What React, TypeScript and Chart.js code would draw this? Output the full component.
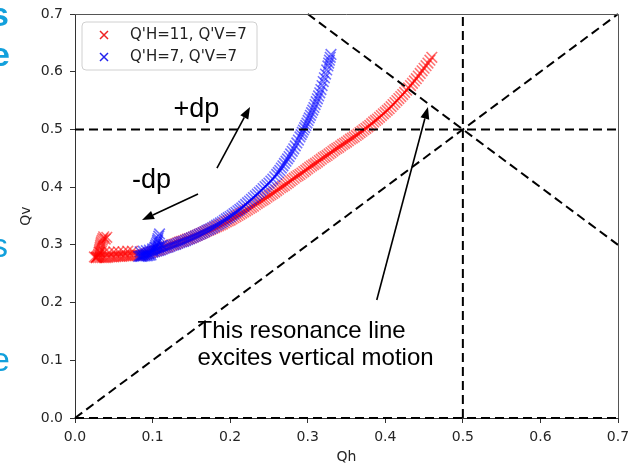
import React, { useEffect, useRef } from "react";
import { Chart, registerables } from "chart.js";
Chart.register(...registerables);

const seriesLabels = ["Q'H=11, Q'V=7", "Q'H=7, Q'V=7"];

// red: hook, bottom rows, main curve
const redQh = [
  0.041, 0.039, 0.037, 0.036, 0.035, 0.034, 0.0335, 0.033, 0.0325, 0.032, 0.0315, 0.031, 0.0305, 0.030, 0.029, 0.028, 0.027,
  0.025, 0.0275, 0.030, 0.0325, 0.035, 0.0375, 0.040, 0.0425, 0.045, 0.0475, 0.050, 0.0525, 0.055, 0.0575, 0.060, 0.0625,
  0.065, 0.0675, 0.070, 0.0725, 0.075, 0.0775, 0.080, 0.0825,
  0.032, 0.038, 0.044, 0.050, 0.056, 0.062, 0.068, 0.074,
  0.0850, 0.0875, 0.0900, 0.0925, 0.0950, 0.0975, 0.1000, 0.1025, 0.1050, 0.1075, 0.1100, 0.1125, 0.1150, 0.1175,
  0.1200, 0.1225, 0.1250, 0.1275, 0.1300, 0.1325, 0.1350, 0.1375, 0.1400, 0.1425, 0.1450, 0.1475, 0.1500, 0.1525,
  0.1550, 0.1575, 0.1600, 0.1625, 0.1650, 0.1675, 0.1700, 0.1725, 0.1750, 0.1775, 0.1800, 0.1825, 0.1850, 0.1875,
  0.1900, 0.1925, 0.1950, 0.1975, 0.2000, 0.2025, 0.2050, 0.2075, 0.2100, 0.2125, 0.2150, 0.2175, 0.2200, 0.2225,
  0.2250, 0.2275, 0.2300, 0.2325, 0.2350, 0.2375, 0.2400, 0.2425, 0.2450, 0.2475, 0.2500, 0.2525, 0.2550, 0.2575,
  0.2600, 0.2625, 0.2650, 0.2675, 0.2700, 0.2725, 0.2750, 0.2775, 0.2800, 0.2825, 0.2850, 0.2875, 0.2900, 0.2925,
  0.2950, 0.2975, 0.3000, 0.3025, 0.3050, 0.3075, 0.3100, 0.3125, 0.3150, 0.3175, 0.3200, 0.3225, 0.3250, 0.3275,
  0.3300, 0.3325, 0.3350, 0.3375, 0.3400, 0.3425, 0.3450, 0.3475, 0.3500, 0.3525, 0.3550, 0.3575, 0.3600, 0.3625,
  0.3650, 0.3675, 0.3700, 0.3725, 0.3750, 0.3775, 0.3800, 0.3825, 0.3850, 0.3875, 0.3900, 0.3925, 0.3950, 0.3975,
  0.4000, 0.4025, 0.4050, 0.4075, 0.4100, 0.4125, 0.4150, 0.4175, 0.4200, 0.4225, 0.4250, 0.4275, 0.4300, 0.4325,
  0.4350, 0.4375, 0.4400, 0.4425, 0.4450, 0.4475, 0.4500, 0.4525, 0.4550, 0.4575, 0.4600,
];
const redQv = [
  0.313, 0.310, 0.314, 0.311, 0.308, 0.305, 0.302, 0.299, 0.296, 0.293, 0.290, 0.287, 0.284, 0.282, 0.280, 0.279, 0.278,
  0.279, 0.278, 0.278, 0.278, 0.278, 0.278, 0.278, 0.2785, 0.279, 0.279, 0.279, 0.2795, 0.280, 0.280, 0.280, 0.2805,
  0.281, 0.281, 0.281, 0.2815, 0.282, 0.282, 0.282, 0.282,
  0.287, 0.287, 0.287, 0.288, 0.288, 0.288, 0.289, 0.289,
  0.2820, 0.2830, 0.2840, 0.2850, 0.2860, 0.2870, 0.2880, 0.2890, 0.2900, 0.2910, 0.2920, 0.2935, 0.2950, 0.2960,
  0.2970, 0.2985, 0.3000, 0.3010, 0.3020, 0.3035, 0.3050, 0.3060, 0.3070, 0.3085, 0.3100, 0.3110, 0.3120, 0.3135,
  0.3150, 0.3165, 0.3180, 0.3195, 0.3210, 0.3225, 0.3240, 0.3255, 0.3270, 0.3285, 0.3300, 0.3315, 0.3330, 0.3345,
  0.3360, 0.3380, 0.3400, 0.3415, 0.3430, 0.3450, 0.3470, 0.3490, 0.3510, 0.3530, 0.3550, 0.3570, 0.3590, 0.3610,
  0.3630, 0.3650, 0.3670, 0.3695, 0.3720, 0.3740, 0.3760, 0.3780, 0.3800, 0.3825, 0.3850, 0.3870, 0.3890, 0.3915,
  0.3940, 0.3965, 0.3990, 0.4010, 0.4030, 0.4055, 0.4080, 0.4105, 0.4130, 0.4155, 0.4180, 0.4200, 0.4220, 0.4245,
  0.4270, 0.4295, 0.4320, 0.4345, 0.4370, 0.4390, 0.4410, 0.4435, 0.4460, 0.4485, 0.4510, 0.4530, 0.4550, 0.4575,
  0.4600, 0.4625, 0.4650, 0.4670, 0.4690, 0.4715, 0.4740, 0.4760, 0.4780, 0.4805, 0.4830, 0.4850, 0.4870, 0.4895,
  0.4920, 0.4945, 0.4970, 0.4995, 0.5020, 0.5045, 0.5070, 0.5100, 0.5130, 0.5155, 0.5180, 0.5210, 0.5240, 0.5270,
  0.5300, 0.5330, 0.5360, 0.5395, 0.5430, 0.5465, 0.5500, 0.5535, 0.5570, 0.5605, 0.5640, 0.5680, 0.5720, 0.5760,
  0.5800, 0.5840, 0.5880, 0.5925, 0.5970, 0.6015, 0.6060, 0.6105, 0.6150, 0.6200, 0.6250,
];

// blue: hook, bottom rows, main curve
const blueQh = [
  0.109, 0.108, 0.107, 0.1065, 0.106, 0.105, 0.104, 0.103, 0.102, 0.100,
  0.082, 0.084, 0.086, 0.088, 0.090, 0.092, 0.094, 0.096, 0.098,
  0.084, 0.088, 0.092, 0.096, 0.100, 0.104, 0.108, 0.112,
  0.0850, 0.0875, 0.0900, 0.0925, 0.0950, 0.0975, 0.1000, 0.1025, 0.1050, 0.1075, 0.1100, 0.1125, 0.1150, 0.1175,
  0.1200, 0.1225, 0.1250, 0.1275, 0.1300, 0.1325, 0.1350, 0.1375, 0.1400, 0.1425, 0.1450, 0.1475, 0.1500, 0.1525,
  0.1550, 0.1575, 0.1600, 0.1625, 0.1650, 0.1675, 0.1700, 0.1725, 0.1750, 0.1775, 0.1800, 0.1825, 0.1850, 0.1875,
  0.1900, 0.1925, 0.1950, 0.1975, 0.2000, 0.2025, 0.2050, 0.2075, 0.2100, 0.2125, 0.2150, 0.2175, 0.2200, 0.2225,
  0.2250, 0.2275, 0.2300, 0.2325, 0.2350, 0.2375, 0.2400, 0.2425, 0.2450, 0.2475, 0.2500, 0.2525, 0.2550, 0.2575,
  0.2600, 0.2620, 0.2640, 0.2660, 0.2680, 0.2700, 0.2720, 0.2740, 0.2760, 0.2780, 0.2800, 0.2820, 0.2840, 0.2860,
  0.2880, 0.2900, 0.2915, 0.2930, 0.2945, 0.2960, 0.2975, 0.2990, 0.3005, 0.3020, 0.3035, 0.3050, 0.3065, 0.3080,
  0.3095, 0.3110, 0.3125, 0.3140, 0.3155, 0.3170, 0.3185, 0.3200, 0.3215, 0.3230, 0.3245, 0.3260, 0.3270, 0.3280,
  0.3290, 0.3300,
];
const blueQv = [
  0.319, 0.315, 0.311, 0.308, 0.305, 0.302, 0.299, 0.296, 0.293, 0.290,
  0.280, 0.280, 0.280, 0.2805, 0.281, 0.281, 0.2815, 0.282, 0.2825,
  0.288, 0.289, 0.290, 0.291, 0.293, 0.295, 0.297, 0.299,
  0.2810, 0.2820, 0.2830, 0.2840, 0.2850, 0.2860, 0.2870, 0.2880, 0.2890, 0.2900, 0.2910, 0.2925, 0.2940, 0.2950,
  0.2960, 0.2975, 0.2990, 0.3000, 0.3010, 0.3025, 0.3040, 0.3050, 0.3060, 0.3075, 0.3090, 0.3105, 0.3120, 0.3135,
  0.3150, 0.3165, 0.3180, 0.3195, 0.3210, 0.3230, 0.3250, 0.3265, 0.3280, 0.3300, 0.3320, 0.3340, 0.3360, 0.3380,
  0.3400, 0.3425, 0.3450, 0.3470, 0.3490, 0.3515, 0.3540, 0.3565, 0.3590, 0.3615, 0.3640, 0.3670, 0.3700, 0.3730,
  0.3760, 0.3790, 0.3820, 0.3850, 0.3880, 0.3910, 0.3940, 0.3975, 0.4010, 0.4040, 0.4070, 0.4105, 0.4140, 0.4180,
  0.4220, 0.4255, 0.4290, 0.4330, 0.4370, 0.4410, 0.4450, 0.4490, 0.4530, 0.4575, 0.4620, 0.4665, 0.4715, 0.4765,
  0.4815, 0.4870, 0.4910, 0.4950, 0.4990, 0.5030, 0.5070, 0.5110, 0.5155, 0.5200, 0.5245, 0.5290, 0.5335, 0.5380,
  0.5430, 0.5480, 0.5530, 0.5580, 0.5635, 0.5690, 0.5760, 0.5830, 0.5895, 0.5960, 0.6030, 0.6100, 0.6150, 0.6200,
  0.6250, 0.6300,
];

// resonance / reference lines (pairs of end points, data units)
const refLinesQh = [
  [0, 0.7],
  [0.5, 0.5],
  [0, 0.7],
  [0.3, 0.7],
  [0, 0.7],
];
const refLinesQv = [
  [0.5, 0.5],
  [0, 0.7],
  [0, 0.7],
  [0.7, 0.3],
  [0, 0],
];

const tickValues = [0, 0.1, 0.2, 0.3, 0.4, 0.5, 0.6, 0.7];
const tickLabels = ["0.0", "0.1", "0.2", "0.3", "0.4", "0.5", "0.6", "0.7"];

// annotations in data units
const noteTexts = ["+dp", "-dp", "This resonance line", "excites vertical motion"];
const noteQh = [0.127, 0.0735, 0.158, 0.158];
const noteQv = [0.5215, 0.3985, 0.1386, 0.0918];
const noteSizes = [27, 27, 24, 24];
const arrowTailQh = [0.183, 0.1586, 0.389];
const arrowTailQv = [0.433, 0.388, 0.2045];
const arrowHeadQh = [0.2256, 0.0864, 0.455];
const arrowHeadQv = [0.539, 0.343, 0.539];

// cropped slide letters at left edge
const sideLetters = ["s", "e", "s", "e"];

const mk = (qh: number[], qv: number[]) => qh.map((x, i) => ({ x, y: qv[i] }));

const drawCross = (ctx: CanvasRenderingContext2D, x: number, y: number, r: number, color: string) => {
  ctx.save();
  ctx.strokeStyle = color;
  ctx.lineWidth = 1.5;
  ctx.beginPath();
  ctx.moveTo(x - r, y - r);
  ctx.lineTo(x + r, y + r);
  ctx.moveTo(x - r, y + r);
  ctx.lineTo(x + r, y - r);
  ctx.stroke();
  ctx.restore();
};

const overlay = {
  id: "overlay",
  afterDraw(chart: any) {
    const ctx: CanvasRenderingContext2D = chart.ctx;
    const { left, right, top, bottom } = chart.chartArea;
    const xs = chart.scales.x;
    const ys = chart.scales.y;
    ctx.save();
    // top/right spines
    ctx.strokeStyle = "#555";
    ctx.lineWidth = 1;
    ctx.beginPath();
    ctx.moveTo(left, top + 0.5);
    ctx.lineTo(right + 0.5, top + 0.5);
    ctx.lineTo(right + 0.5, bottom);
    ctx.stroke();

    // legend
    const lx = left + 7, ly = top + 8, lw = 175, lh = 48;
    ctx.beginPath();
    const rr = 4;
    ctx.moveTo(lx + rr, ly);
    ctx.lineTo(lx + lw - rr, ly);
    ctx.quadraticCurveTo(lx + lw, ly, lx + lw, ly + rr);
    ctx.lineTo(lx + lw, ly + lh - rr);
    ctx.quadraticCurveTo(lx + lw, ly + lh, lx + lw - rr, ly + lh);
    ctx.lineTo(lx + rr, ly + lh);
    ctx.quadraticCurveTo(lx, ly + lh, lx, ly + lh - rr);
    ctx.lineTo(lx, ly + rr);
    ctx.quadraticCurveTo(lx, ly, lx + rr, ly);
    ctx.closePath();
    ctx.fillStyle = "rgba(255,255,255,0.85)";
    ctx.fill();
    ctx.strokeStyle = "#d0d0d0";
    ctx.stroke();
    const ds = chart.data.datasets;
    ctx.font = "15px 'DejaVu Sans'";
    ctx.textBaseline = "middle";
    ctx.textAlign = "left";
    const legendColors = ["#ee2222", "#2222ee"];
    for (let i = 0; i < 2; i++) {
      const cy = ly + 13 + i * 22;
      drawCross(ctx, lx + 22, cy, 4, legendColors[i]);
      ctx.fillStyle = "#222";
      ctx.fillText(ds[i].label, lx + 48, cy);
    }

    // annotation texts
    ctx.fillStyle = "#000";
    ctx.textBaseline = "alphabetic";
    noteTexts.forEach((t, i) => {
      ctx.font = `${noteSizes[i]}px 'Liberation Sans', Arial, sans-serif`;
      ctx.fillText(t, xs.getPixelForValue(noteQh[i]), ys.getPixelForValue(noteQv[i]));
    });

    // arrows
    ctx.strokeStyle = "#000";
    ctx.fillStyle = "#000";
    ctx.lineWidth = 1.6;
    arrowTailQh.forEach((_, i) => {
      const x0 = xs.getPixelForValue(arrowTailQh[i]);
      const y0 = ys.getPixelForValue(arrowTailQv[i]);
      const x1 = xs.getPixelForValue(arrowHeadQh[i]);
      const y1 = ys.getPixelForValue(arrowHeadQv[i]);
      const ang = Math.atan2(y1 - y0, x1 - x0);
      const hl = 12, hw = 4.5;
      const bx = x1 - hl * Math.cos(ang), by = y1 - hl * Math.sin(ang);
      ctx.beginPath();
      ctx.moveTo(x0, y0);
      ctx.lineTo(bx, by);
      ctx.stroke();
      ctx.beginPath();
      ctx.moveTo(x1, y1);
      ctx.lineTo(bx + hw * Math.sin(ang), by - hw * Math.cos(ang));
      ctx.lineTo(bx - hw * Math.sin(ang), by + hw * Math.cos(ang));
      ctx.closePath();
      ctx.fill();
    });

    // side letters (cropped slide text)
    ctx.fillStyle = "#12a0dc";
    ctx.font = "bold 34px 'Liberation Sans', Arial, sans-serif";
    ctx.fillText(sideLetters[0], -10, 26);
    ctx.fillText(sideLetters[1], -9, 66);
    ctx.font = "34px 'Liberation Sans', Arial, sans-serif";
    ctx.fillText(sideLetters[2], -9, 257);
    ctx.fillText(sideLetters[3], -9, 371);
    ctx.restore();
  },
};

const tickFont = { family: "DejaVu Sans", size: 14 };

export default function App() {
  const ref = useRef<HTMLCanvasElement>(null);
  useEffect(() => {
    const canvas = ref.current!;
    const lineDs = refLinesQh.map((qh, i) => ({
      type: "line",
      data: mk(qh, refLinesQv[i]),
      borderColor: "#000",
      borderWidth: 2,
      borderDash: [9, 5],
      pointRadius: 0,
      showLine: true,
      fill: false,
      order: 0,
      clip: false,
    }));
    const chart = new Chart(canvas, {
      type: "scatter",
      data: {
        datasets: [
          {
            label: seriesLabels[0],
            data: mk(redQh, redQv),
            pointStyle: "crossRot",
            pointRadius: 7.5,
            borderWidth: 1.6,
            borderColor: "rgba(255,0,0,0.55)",
            backgroundColor: "rgba(255,0,0,0.55)",
            order: 2,
          },
          {
            label: seriesLabels[1],
            data: mk(blueQh, blueQv),
            pointStyle: "crossRot",
            pointRadius: 7.5,
            borderWidth: 1.6,
            borderColor: "rgba(0,0,255,0.55)",
            backgroundColor: "rgba(0,0,255,0.55)",
            order: 1,
          },
          ...lineDs,
        ] as any,
      },
      options: {
        responsive: false,
        animation: false,
        devicePixelRatio: 1,
        layout: { padding: { left: 0, top: 14, right: 13, bottom: 0 } },
        plugins: { legend: { display: false }, tooltip: { enabled: false } },
        scales: {
          x: {
            type: "linear",
            min: 0,
            max: 0.7,
            afterBuildTicks: (s: any) => {
              s.ticks = tickValues.map((v) => ({ value: v }));
            },
            ticks: {
              callback: (_v: any, i: number) => tickLabels[i],
              font: tickFont,
              color: "#262626",
              padding: 6,
              maxRotation: 0,
              autoSkip: false,
            },
            grid: { display: true, drawOnChartArea: false, drawTicks: true, tickLength: 5, tickColor: "#333" },
            border: { display: true, color: "#333", width: 1 },
            title: { display: true, text: "Qh", font: tickFont, color: "#262626", padding: { top: 0, bottom: 0 } },
            afterFit: (s: any) => {
              s.height = 48;
              s.paddingLeft = 0;
              s.paddingRight = 0;
            },
          },
          y: {
            type: "linear",
            min: 0,
            max: 0.7,
            afterBuildTicks: (s: any) => {
              s.ticks = tickValues.map((v) => ({ value: v }));
            },
            ticks: {
              callback: (_v: any, i: number) => tickLabels[i],
              font: tickFont,
              color: "#262626",
              padding: 7,
              autoSkip: false,
            },
            grid: { display: true, drawOnChartArea: false, drawTicks: true, tickLength: 5, tickColor: "#333" },
            border: { display: true, color: "#333", width: 1 },
            title: { display: true, text: "Qv", font: tickFont, color: "#262626", padding: { top: 17.6, bottom: 0 } },
            afterFit: (s: any) => {
              s.width = 75;
              s.paddingTop = 0;
              s.paddingBottom = 0;
            },
          },
        },
      } as any,
      plugins: [overlay],
    });
    return () => chart.destroy();
  }, []);
  return (
    <div style={{ position: "fixed", left: 0, top: 0, width: 631, height: 466, background: "#fff" }}>
      <canvas ref={ref} width={631} height={466} style={{ display: "block" }} />
    </div>
  );
}
